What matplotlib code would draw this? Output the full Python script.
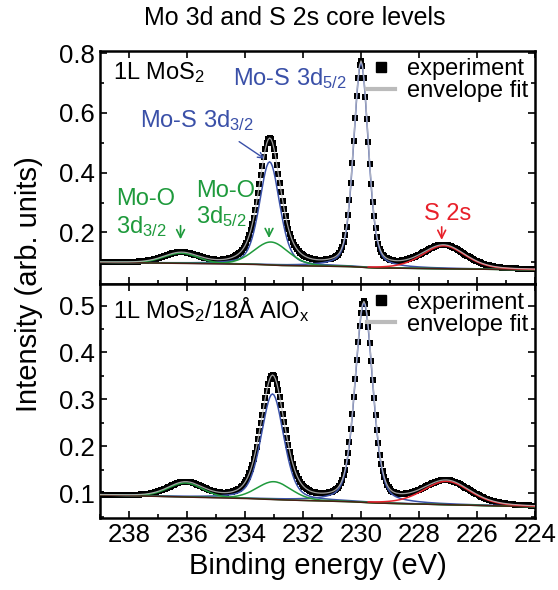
import numpy as np
import matplotlib
matplotlib.use("Agg")
import matplotlib.pyplot as plt
from matplotlib.lines import Line2D

plt.rcParams['font.family'] = ['Liberation Sans', 'DejaVu Sans']
plt.rcParams['mathtext.fontset'] = 'custom'
plt.rcParams['mathtext.rm'] = 'Liberation Sans'
plt.rcParams['mathtext.it'] = 'Liberation Sans:italic'
plt.rcParams['mathtext.bf'] = 'Liberation Sans:bold'

# peak parameters (centre eV, height, FWHM eV, lorentz fraction)
# order: Mo-S 3d5/2, Mo-S 3d3/2, Mo-O 3d5/2, Mo-O 3d3/2, S 2s
top_centre = [230.0, 233.15, 233.1, 236.2, 227.15]
top_height = [0.685, 0.345, 0.077, 0.034, 0.077]
top_fwhm = [0.60, 0.82, 1.40, 1.40, 1.75]
top_eta = [0.35, 0.35, 0.2, 0.2, 0.3]
# background: value at 224 eV, slope per eV, Shirley step height
top_bg = [0.075, 0.0011, 0.0085]

bot_centre = [229.9, 233.05, 233.0, 236.05, 227.05]
bot_height = [0.425, 0.225, 0.038, 0.030, 0.050]
bot_fwhm = [0.72, 0.92, 1.40, 1.40, 1.90]
bot_eta = [0.35, 0.35, 0.2, 0.2, 0.3]
bot_bg = [0.071, 0.0014, 0.004]

comp_colors = ['#3b52a8', '#3b52a8', '#1f9a3c', '#1f9a3c', '#e8202a']

E = np.arange(224.0, 239.0001, 0.05)


def pv(x, c, h, w, eta):
    u = (x - c) / w
    return h * (eta / (1 + 4 * u**2) + (1 - eta) * np.exp(-4 * np.log(2) * u**2))


def build(centre, height, fwhm, eta, bg):
    comps = [pv(E, c, h, w, n) for c, h, w, n in zip(centre, height, fwhm, eta)]
    mo = sum(comps[:4])
    F = np.cumsum(mo)
    F = F / F[-1]
    back = bg[0] + bg[1] * (E - 224) + bg[2] * F
    env = back + sum(comps)
    return comps, back, env


fig, (ax1, ax2) = plt.subplots(2, 1, figsize=(5.58, 5.90), dpi=100, sharex=True)
fig.subplots_adjust(left=0.179, right=0.959, top=0.9136, bottom=0.122, hspace=0)

for ax, pars, ylim in [(ax1, (top_centre, top_height, top_fwhm, top_eta, top_bg), (0.026, 0.807)),
                       (ax2, (bot_centre, bot_height, bot_fwhm, bot_eta, bot_bg), (0.047, 0.545))]:
    comps, back, env = build(*pars)
    ax.plot(E, env, 's', color='black', ms=4.6, mew=0, zorder=2)
    for i in [0, 1]:
        ax.plot(E, back + comps[i], color=comp_colors[i], lw=1.1, zorder=4)
    for i in [2, 3]:
        ax.plot(E, back + comps[i], color=comp_colors[i], lw=1.1, zorder=5)
    ax.plot(E, back, color='#4b1e14', lw=1.1, zorder=6)
    m = E <= 229.8
    ax.plot(E[m], back[m] + comps[4][m], color=comp_colors[4], lw=1.1, zorder=7)
    ax.plot(E, env, color='#c8c8c8', lw=0.9, alpha=0.8, zorder=8)
    ax.set_xlim(239.0, 224.0)
    ax.set_ylim(*ylim)
    for s in ax.spines.values():
        s.set_linewidth(1.8)
    ax.tick_params(which='both', direction='in', top=True, right=True, width=1.2,
                   labelsize=18.5)
    ax.tick_params(which='major', length=5)
    ax.tick_params(which='minor', length=3, top=False)
    handles = [Line2D([], [], marker='s', ls='none', color='black', ms=7),
               Line2D([], [], color='#bbbbbb', lw=3)]
    ax.legend(handles, ['experiment', 'envelope fit'], loc='upper right', frameon=False,
              fontsize=17, handlelength=1.2, handletextpad=0.5, labelspacing=0.0,
              borderaxespad=0.1, borderpad=0.2)

ax2.set_xticks(np.arange(224, 239, 2))
ax2.set_xticks(np.arange(224, 240, 1), minor=True)
ax1.set_yticks([0.2, 0.4, 0.6, 0.8])
ax1.set_yticks(np.arange(0.1, 0.81, 0.1), minor=True)
ax2.set_yticks([0.1, 0.2, 0.3, 0.4, 0.5])
ax2.set_yticks(np.arange(0.05, 0.55, 0.05), minor=True)
ax2.set_xlabel('Binding energy (eV)', fontsize=21, labelpad=4)
fig.text(0.052, 0.518, 'Intensity (arb. units)', rotation=90, fontsize=21,
         ha='center', va='center')
fig.text(0.529, 0.969, 'Mo 3d and S 2s core levels', fontsize=18, ha='center', va='center')

blue = '#3a50a8'
green = '#1e9a3c'
red = '#e8202a'
ax1.text(0.03, 0.88, '1L MoS$_{\\mathrm{2}}$', transform=ax1.transAxes, fontsize=17, va='baseline')
ax2.text(0.03, 0.855, '1L MoS$_{\\mathrm{2}}$/18Å AlO$_{\\mathrm{x}}$', transform=ax2.transAxes,
         fontsize=17, va='baseline')
ax1.text(232.45, 0.693, 'Mo-S 3d$_{\\mathrm{5/2}}$', color=blue, fontsize=17, ha='center', va='baseline')
ax1.text(235.67, 0.552, 'Mo-S 3d$_{\\mathrm{3/2}}$', color=blue, fontsize=17, ha='center', va='baseline')
ax1.annotate('', xy=(233.24, 0.441), xytext=(234.28, 0.509),
             arrowprops=dict(arrowstyle='->', color=blue, lw=1.0))
ax1.text(238.45, 0.291, 'Mo-O', color=green, fontsize=17, ha='left', va='baseline')
ax1.text(238.45, 0.197, '3d$_{\\mathrm{3/2}}$', color=green, fontsize=17, ha='left', va='baseline')
ax1.annotate('', xy=(236.22, 0.168), xytext=(236.22, 0.232),
             arrowprops=dict(arrowstyle='->', color=green, lw=1.2, mutation_scale=14))
ax1.text(235.69, 0.318, 'Mo-O', color=green, fontsize=17, ha='left', va='baseline')
ax1.text(235.69, 0.230, '3d$_{\\mathrm{5/2}}$', color=green, fontsize=17, ha='left', va='baseline')
ax1.annotate('', xy=(233.17, 0.172), xytext=(233.17, 0.222),
             arrowprops=dict(arrowstyle='->', color=green, lw=1.2, mutation_scale=14))
ax1.text(227.02, 0.241, 'S 2s', color=red, fontsize=17, ha='center', va='baseline')
ax1.annotate('', xy=(227.22, 0.166), xytext=(227.22, 0.228),
             arrowprops=dict(arrowstyle='->', color=red, lw=1.2, mutation_scale=14))

fig.savefig('out.png', dpi=100)
